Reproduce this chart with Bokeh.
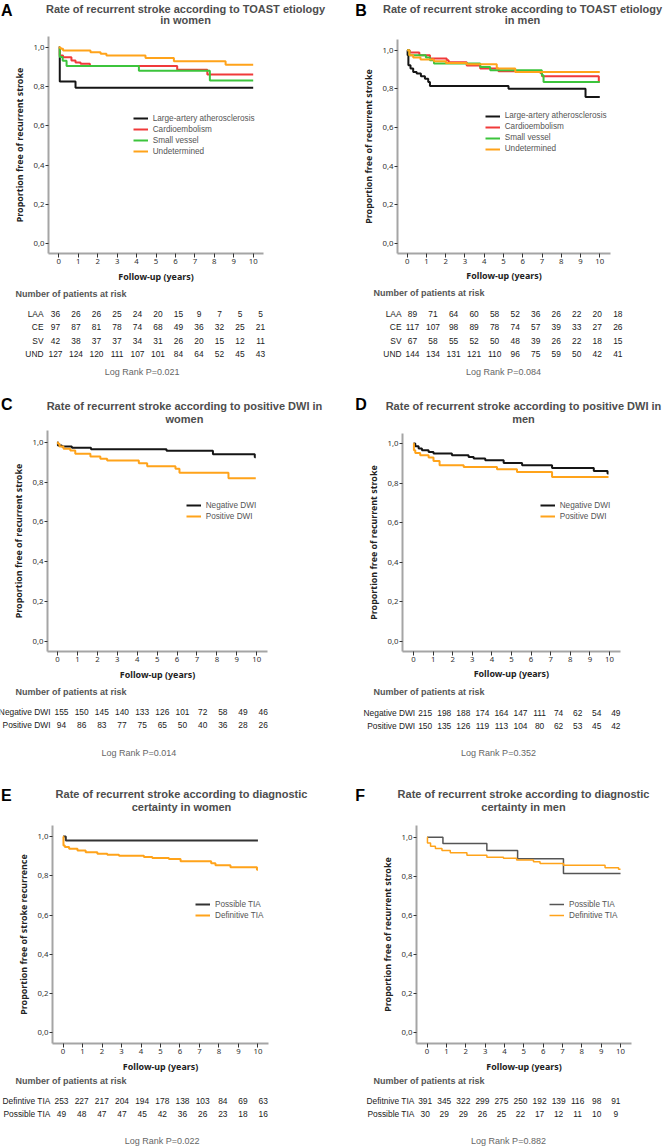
from bokeh.plotting import figure
from bokeh.models import Range1d, FixedTicker, Label, Legend, LegendItem, CustomJSTickFormatter
from bokeh.layouts import column, row
from bokeh.embed import file_html
from bokeh.resources import INLINE

# ---------------- data ----------------
years = list(range(11))
y_ticks = [0.0, 0.2, 0.4, 0.6, 0.8, 1.0]

toast_names = ["Large-artery atherosclerosis", "Cardioembolism", "Small vessel", "Undetermined"]
toast_rows = ["LAA", "CE", "SV", "UND"]
dwi_names = ["Negative DWI", "Positive DWI"]
tia_names = ["Possible TIA", "Definitive TIA"]

# Panel A: TOAST, women
a_laa_t = [0, 0.05, 0.86, 10.0]
a_laa_s = [1.0, 0.826, 0.795, 0.795]
a_ce_t = [0, 0.05, 0.22, 0.65, 0.86, 1.12, 1.6, 6.09, 7.64, 10.0]
a_ce_s = [1.0, 0.959, 0.95, 0.934, 0.923, 0.917, 0.905, 0.886, 0.862, 0.862]
a_sv_t = [0, 0.05, 0.2, 0.4, 4.12, 7.77, 10.0]
a_sv_s = [1.0, 0.952, 0.932, 0.906, 0.882, 0.832, 0.832]
a_und_t = [0, 0.1, 0.22, 1.63, 2.15, 2.45, 4.46, 5.92, 8.58, 10.0]
a_und_s = [1.0, 0.993, 0.985, 0.976, 0.968, 0.959, 0.947, 0.93, 0.912, 0.912]
a_risk = [[36, 26, 26, 25, 24, 20, 15, 9, 7, 5, 5],
          [97, 87, 81, 78, 74, 68, 49, 36, 32, 25, 21],
          [42, 38, 37, 37, 34, 31, 26, 20, 15, 12, 11],
          [127, 124, 120, 111, 107, 101, 84, 64, 52, 45, 43]]
a_p = "Log Rank P=0.021"

# Panel B: TOAST, men
b_laa_t = [0, 0.02, 0.06, 0.17, 0.31, 0.49, 0.71, 0.92, 1.09, 1.18, 5.26, 9.26, 10.0]
b_laa_s = [1.0, 0.974, 0.922, 0.905, 0.887, 0.879, 0.865, 0.853, 0.836, 0.815, 0.801, 0.758, 0.758]
b_ce_t = [0, 0.13, 0.63, 1.18, 2.05, 2.15, 3.09, 3.79, 4.74, 6.91, 7.0, 9.95, 10.0]
b_ce_s = [1.0, 0.988, 0.974, 0.957, 0.948, 0.938, 0.921, 0.905, 0.891, 0.882, 0.865, 0.838, 0.838]
b_sv_t = [0, 0.11, 0.97, 1.18, 1.39, 3.79, 4.31, 6.99, 7.08, 10.0]
b_sv_s = [1.0, 0.974, 0.962, 0.948, 0.931, 0.913, 0.896, 0.87, 0.836, 0.836]
b_und_t = [0, 0.11, 0.31, 0.69, 1.39, 2.01, 3.09, 4.65, 5.61, 10.0]
b_und_s = [1.0, 0.974, 0.962, 0.952, 0.943, 0.934, 0.927, 0.905, 0.887, 0.887]
b_risk = [[89, 71, 64, 60, 58, 52, 36, 26, 22, 20, 18],
          [117, 107, 98, 89, 78, 74, 57, 39, 33, 27, 26],
          [67, 58, 55, 52, 50, 48, 39, 26, 22, 18, 15],
          [144, 134, 131, 121, 110, 96, 75, 59, 50, 42, 41]]
b_p = "Log Rank P=0.084"

# Panel C: DWI, women
c_neg_t = [0, 0.02, 0.22, 0.72, 1.68, 5.47, 7.8, 9.9, 9.95]
c_neg_s = [1.0, 0.983, 0.978, 0.972, 0.965, 0.957, 0.94, 0.925, 0.925]
c_pos_t = [0, 0.02, 0.1, 0.3, 0.64, 0.89, 1.65, 2.15, 2.49, 4.08, 4.5, 5.92, 6.12, 8.58, 9.95]
c_pos_s = [1.0, 0.992, 0.978, 0.967, 0.958, 0.942, 0.928, 0.917, 0.908, 0.894, 0.879, 0.866, 0.846, 0.819, 0.819]
c_risk = [[155, 150, 145, 140, 133, 126, 101, 72, 58, 49, 46],
          [94, 86, 83, 77, 75, 65, 50, 40, 36, 28, 26]]
c_p = "Log Rank P=0.014"

# Panel D: DWI, men
d_neg_t = [0, 0.09, 0.26, 0.43, 0.77, 1.02, 1.96, 2.81, 3.07, 3.66, 4.6, 5.54, 7.07, 9.2, 9.9, 9.95]
d_neg_s = [1.0, 0.986, 0.975, 0.966, 0.957, 0.949, 0.941, 0.932, 0.924, 0.915, 0.902, 0.89, 0.876, 0.861, 0.848, 0.848]
d_pos_t = [0, 0.02, 0.09, 0.34, 0.77, 1.02, 1.33, 2.56, 4.26, 5.28, 7.07, 9.95]
d_pos_s = [1.0, 0.966, 0.952, 0.941, 0.929, 0.912, 0.89, 0.881, 0.87, 0.856, 0.83, 0.83]
d_risk = [[215, 198, 188, 174, 164, 147, 111, 74, 62, 54, 49],
          [150, 135, 126, 119, 113, 104, 80, 62, 53, 45, 42]]
d_p = "Log Rank P=0.352"

# Panel E: diagnostic certainty, women
e_pos_t = [0, 0.14, 10.0]
e_pos_s = [1.0, 0.98, 0.98]
e_def_t = [0, 0.02, 0.09, 0.31, 0.74, 1.16, 1.76, 2.27, 2.87, 4.15, 4.58, 5.43, 6.03, 7.6, 7.82, 8.59, 9.95, 10.0]
e_def_s = [1.0, 0.954, 0.946, 0.937, 0.929, 0.92, 0.912, 0.907, 0.902, 0.895, 0.89, 0.885, 0.874, 0.864, 0.854, 0.844, 0.831, 0.831]
e_rows = ["Defintive TIA", "Possible TIA"]
e_risk = [[253, 227, 217, 204, 194, 178, 138, 103, 84, 69, 63],
          [49, 48, 47, 47, 45, 42, 36, 26, 23, 18, 16]]
e_p = "Log Rank P=0.022"

# Panel F: diagnostic certainty, men
f_pos_t = [0, 0.82, 3.09, 4.68, 7.05, 10.0]
f_pos_s = [1.0, 0.968, 0.932, 0.89, 0.815, 0.815]
f_def_t = [0, 0.02, 0.18, 0.43, 0.77, 1.2, 2.06, 3.09, 3.95, 4.63, 5.5, 5.84, 7.05, 9.2, 9.9, 10.0]
f_def_s = [1.0, 0.97, 0.954, 0.942, 0.932, 0.92, 0.908, 0.898, 0.892, 0.883, 0.874, 0.866, 0.856, 0.844, 0.836, 0.836]
f_rows = ["Defitnive TIA", "Possible TIA"]
f_risk = [[391, 345, 322, 299, 275, 250, 192, 139, 116, 98, 91],
          [30, 29, 29, 26, 25, 22, 17, 12, 11, 10, 9]]
f_p = "Log Rank P=0.882"

# ---------------- styling / layout ----------------
SX = 1.0
SY = 1.0
FONT = "Liberation Sans"
AXFONT = "Noto Sans"
BLACK, RED, GREEN, ORANGE = "#151515", "#f03a3a", "#3cc43c", "#ffa31a"
AXIS_GAP = 17   # px below the frame reserved for the x tick marks / labels

def fpx(v):
    return f"{v:.1f}px"

panels = [
    dict(letter="A", box=(0, 0, 333, 385),
         geo=dict(L=48, R=263, T=36, B=253, x0=58.3, x10=252.7, y1=47, y0=243),
         title=("Rate of recurrent stroke according to TOAST etiology", "in women"),
         tpos=(185, 8.5, 19.8), lpos=(0.5, 9.5),
         ylabel="Proportion free of recurrent stroke",
         curves=[(toast_names[0], BLACK, 2, a_laa_t, a_laa_s), (toast_names[1], RED, 2, a_ce_t, a_ce_s),
                 (toast_names[2], GREEN, 2, a_sv_t, a_sv_s), (toast_names[3], ORANGE, 2, a_und_t, a_und_s)],
         leg=(132.7, 118.3, 1),
         rows=toast_rows, risk=a_risk, hdr=(15, 293), rright=43, ry=[313, 326.5, 340, 353.3],
         cols=(55, 260), p=a_p, ppos=(141.7, 371.7)),
    dict(letter="B", box=(333, 0, 333, 385),
         geo=dict(L=397.3, R=609.7, T=39.3, B=252.7, x0=407, x10=599, y1=50, y0=242.7),
         title=("Rate of recurrent stroke according to TOAST etiology", "in men"),
         tpos=(522, 8.5, 19.8), lpos=(354.7, 9.5),
         ylabel="Proportion free of recurrent stroke",
         curves=[(toast_names[0], BLACK, 2, b_laa_t, b_laa_s), (toast_names[1], RED, 2, b_ce_t, b_ce_s),
                 (toast_names[2], GREEN, 2, b_sv_t, b_sv_s), (toast_names[3], ORANGE, 2, b_und_t, b_und_s)],
         leg=(484.7, 115.7, 1),
         rows=toast_rows, risk=b_risk, hdr=(373, 292.5), rright=401, ry=[313, 326.5, 340, 353.3],
         cols=(412, 617.3), p=b_p, ppos=(503, 371.7)),
    dict(letter="C", box=(0, 385, 333, 391),
         geo=dict(L=47.3, R=266.7, T=430, B=651, x0=57.3, x10=256, y1=441.7, y0=640.7),
         title=("Rate of recurrent stroke according to positive DWI in", "women"),
         tpos=(184, 405, 418.3), lpos=(0.5, 404),
         ylabel="Proportion free of recurrent stroke",
         curves=[(dwi_names[0], BLACK, 2, c_neg_t, c_neg_s), (dwi_names[1], ORANGE, 2, c_pos_t, c_pos_s)],
         leg=(185.7, 505, 1),
         rows=dwi_names, risk=c_risk, hdr=(15, 691.5), rright=50, ry=[711.7, 724.7],
         cols=(61, 262.7), p=c_p, ppos=(138.3, 752.7)),
    dict(letter="D", box=(333, 385, 333, 391),
         geo=dict(L=402, R=619.7, T=433.3, B=650.7, x0=413, x10=608.7, y1=443.3, y0=640.3),
         title=("Rate of recurrent stroke according to positive DWI in", "men"),
         tpos=(523, 405, 418.3), lpos=(354.7, 404),
         ylabel="Proportion free of recurrent stroke",
         curves=[(dwi_names[0], BLACK, 2, d_neg_t, d_neg_s), (dwi_names[1], ORANGE, 2, d_pos_t, d_pos_s)],
         leg=(539.7, 505, 1),
         rows=dwi_names, risk=d_risk, hdr=(373, 691), rright=414.7, ry=[712, 725],
         cols=(424.7, 615.3), p=d_p, ppos=(498, 752.7)),
    dict(letter="E", box=(0, 776, 333, 370),
         geo=dict(L=51.7, R=268.3, T=825, B=1043.3, x0=62.3, x10=257.7, y1=836, y0=1032.7),
         title=("Rate of recurrent stroke according to diagnostic", "certainty in women"),
         tpos=(181, 793, 806.5), lpos=(0.5, 795),
         ylabel="Proportion free of stroke recurrence",
         curves=[(tia_names[0], "#333333", 2, e_pos_t, e_pos_s), (tia_names[1], ORANGE, 2, e_def_t, e_def_s)],
         leg=(195, 904.3, 1),
         rows=e_rows, risk=e_risk, hdr=(15, 1080), rright=50, ry=[1100.3, 1113.3],
         cols=(61, 262.7), p=e_p, ppos=(161.7, 1140.5)),
    dict(letter="F", box=(333, 776, 333, 370),
         geo=dict(L=415.7, R=631.3, T=825, B=1043.3, x0=426.3, x10=620.3, y1=836.7, y0=1032.7),
         title=("Rate of recurrent stroke according to diagnostic", "certainty in men"),
         tpos=(523, 793, 806.5), lpos=(354.7, 795),
         ylabel="Proportion free of recurrent stroke",
         curves=[(tia_names[0], "#555555", 1.5, f_pos_t, f_pos_s), (tia_names[1], ORANGE, 1.5, f_def_t, f_def_s)],
         leg=(549, 904.3, 1),
         rows=f_rows, risk=f_risk, hdr=(373, 1080), rright=414, ry=[1100.3, 1113.3],
         cols=(424.7, 615.3), p=f_p, ppos=(508, 1140.5)),
]


def text_fig(x0, y0, w, h):
    """A blank figure whose data coordinates are page pixels (y downward)."""
    p = figure(width=w, height=h, x_range=Range1d(x0, x0 + w), y_range=Range1d(y0 + h, y0),
               x_axis_type=None, y_axis_type=None, output_backend="svg", toolbar_location=None,
               min_border_left=0, min_border_right=0, min_border_top=0, min_border_bottom=0,
               frame_align=False)
    p.outline_line_color = None
    p.background_fill_color = "white"
    p.border_fill_color = "white"
    return p


def lab(p, rx, ry, text, size, color, bold=False, align="left", font=FONT):
    p.add_layout(Label(x=rx * SX, y=ry * SY, text=text, text_font=font,
                       text_font_size=fpx(size * SX), text_color=color,
                       text_font_style="bold" if bold else "normal",
                       text_align=align, text_baseline="middle"))


def build(spec):
    fx, fy, fw, fh = spec["box"]
    g = spec["geo"]
    Lp, Rp = round(g["L"] * SX), round(g["R"] * SX)
    Tp, Bp = round(g["T"] * SY), round(g["B"] * SY)
    Kb = Bp + AXIS_GAP
    upx = (g["x10"] - g["x0"]) / 10.0
    xr = ((g["L"] - g["x0"]) / upx, (g["R"] - g["x0"]) / upx)
    vpx = g["y0"] - g["y1"]
    yr = ((g["y0"] - g["B"]) / vpx, (g["y0"] - g["T"]) / vpx)

    # ---- header (letter + title) ----
    head = text_fig(fx, fy, fw, Tp - fy)
    lab(head, spec["lpos"][0], spec["lpos"][1], spec["letter"], 16, "#000000", bold=True)
    tx, t1, t2 = spec["tpos"]
    lab(head, tx, t1, spec["title"][0], 11, "#4d4d4d", bold=True, align="center")
    lab(head, tx, t2, spec["title"][1], 11, "#4d4d4d", bold=True, align="center")

    # ---- Kaplan-Meier plot ----
    p = figure(width=fw, height=Kb - Tp, x_range=Range1d(*xr), y_range=Range1d(*yr),
               output_backend="svg", toolbar_location=None,
               min_border_left=Lp - fx, min_border_right=fx + fw - Rp,
               min_border_top=0, min_border_bottom=Kb - Bp, frame_align=False)
    p.outline_line_color = None
    p.xgrid.visible = False
    p.ygrid.visible = False
    p.background_fill_color = "white"
    p.border_fill_color = "white"

    p.xaxis.ticker = FixedTicker(ticks=years)
    p.yaxis.ticker = FixedTicker(ticks=y_ticks)
    p.yaxis.formatter = CustomJSTickFormatter(code="return tick.toFixed(1).replace('.', ',')")
    for ax in (p.xaxis, p.yaxis):
        ax.axis_line_color = "#a5a5a5"
        ax.axis_line_width = 2
        ax.major_tick_line_color = "#333333"
        ax.major_tick_line_width = 1
        ax.major_tick_in = 0
        ax.minor_tick_out = 0
        ax.minor_tick_in = 0
        ax.major_label_text_font = AXFONT
        ax.major_label_text_font_size = fpx(7.8)
        ax.major_label_text_color = "#333333"
        ax.axis_label_text_font = AXFONT
        ax.axis_label_text_font_size = fpx(8.9)
        ax.axis_label_text_font_style = "bold"
        ax.axis_label_text_color = "#222222"
        ax.axis_label_standoff = 4
    p.xaxis.major_tick_out = 4
    p.yaxis.major_tick_out = 3
    p.xaxis.major_label_standoff = 1
    p.yaxis.major_label_standoff = 1
    p.yaxis.axis_label = spec["ylabel"]

    items = []
    for name, color, width, t, s in spec["curves"]:
        r = p.step(t, s, mode="after", line_color=color, line_width=width)
        items.append(LegendItem(label=name, renderers=[r]))

    lx, ly, sp = spec["leg"]
    row_h = 10
    n = len(items)
    top = ly * SY - row_h / 2
    bottom = top + n * row_h + (n - 1) * sp
    leg = Legend(items=items, location=(lx * SX - Lp, Bp - bottom),
                 label_text_font=FONT, label_text_font_size=fpx(8.2 * SX),
                 label_text_color="#555555", glyph_width=15, glyph_height=row_h,
                 label_height=row_h, label_standoff=5, spacing=sp, padding=0, margin=0,
                 border_line_alpha=0, background_fill_alpha=0)
    p.add_layout(leg)

    # ---- x label + number at risk table ----
    tab = text_fig(fx, Kb, fw, fy + fh - Kb)
    lab(tab, (g["L"] + g["R"]) / 2, g["B"] + 22.5, "Follow-up (years)", 8.9, "#222222",
        bold=True, align="center", font=AXFONT)
    lab(tab, spec["hdr"][0], spec["hdr"][1], "Number of patients at risk", 9, "#555555", bold=True)
    c0, c1 = spec["cols"]
    for rname, vals, yy in zip(spec["rows"], spec["risk"], spec["ry"]):
        lab(tab, spec["rright"], yy, rname, 8.4, "#1a1a1a", align="right")
        for i, v in enumerate(vals):
            lab(tab, c0 + i * (c1 - c0) / 10.0, yy, str(v), 8.4, "#1a1a1a", align="center")
    lab(tab, spec["ppos"][0], spec["ppos"][1], spec["p"], 9, "#666666", align="center")
    return column(head, p, tab)


cols = [build(s) for s in panels]
layout = column(row(cols[0], cols[1]), row(cols[2], cols[3]), row(cols[4], cols[5]))

with open("out.html", "w") as fh:
    fh.write(file_html(layout, INLINE, title="Recurrent stroke"))
